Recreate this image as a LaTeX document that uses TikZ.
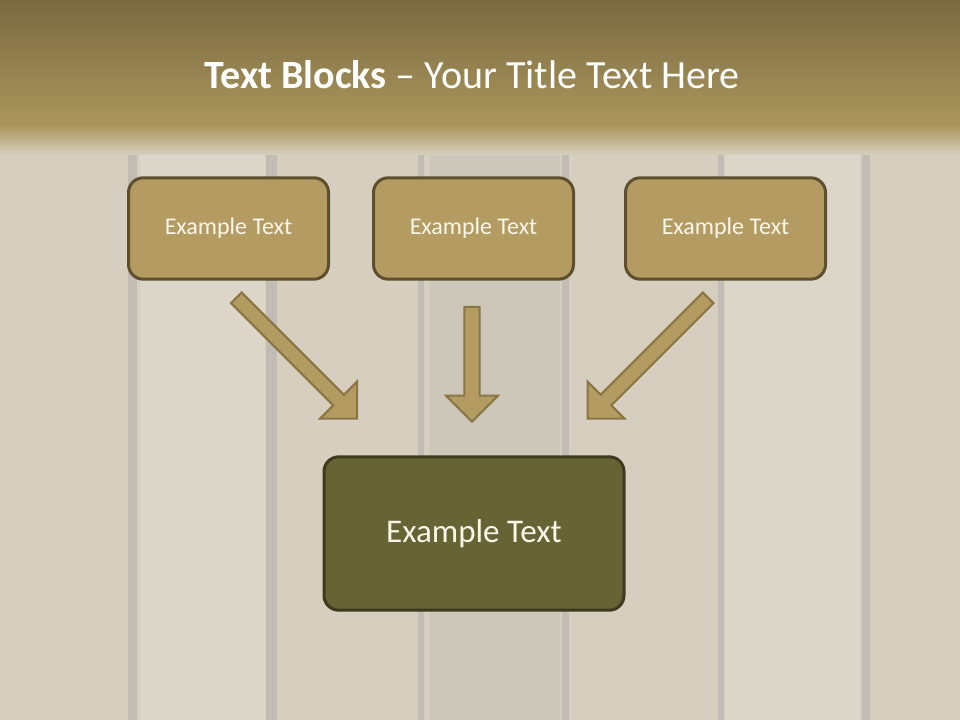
\documentclass[tikz,border=0pt]{standalone}
\usepackage{fontspec}
\setmainfont{Carlito}
\usetikzlibrary{shapes.arrows}
\definecolor{woodbase}{RGB}{214,207,191}
\definecolor{woodlight}{RGB}{220,214,200}
\definecolor{wooddark}{RGB}{205,199,186}
\definecolor{seam}{RGB}{194,189,180}
\definecolor{bandtop}{RGB}{122,106,66}
\definecolor{bandbot}{RGB}{170,150,92}
\definecolor{blockfill}{RGB}{179,155,98}
\definecolor{blockline}{RGB}{94,79,46}
\definecolor{arrowline}{RGB}{138,117,69}
\definecolor{mainfill}{RGB}{102,100,52}
\definecolor{mainline}{RGB}{61,58,30}
\definecolor{blocktext}{RGB}{250,246,234}
\begin{document}
\begin{tikzpicture}[
    x=0.75pt, y=-0.75pt,
    block/.style={draw=blockline, fill=blockfill, line width=2.25pt, rounded corners=11pt,
      minimum width=150pt, minimum height=76pt, text=blocktext, font=\fontsize{18}{22}\selectfont},
    mainblock/.style={block, draw=mainline, fill=mainfill, minimum width=225pt, minimum height=115pt,
      font=\fontsize{24.8}{30}\selectfont},
    flow/.style={single arrow, draw=arrowline, fill=blockfill, line width=1.5pt,
      inner sep=4.9pt, single arrow head extend=13.9pt, single arrow tip angle=90, single arrow head indent=0pt},
]
  \useasboundingbox (0,0) rectangle (960,720);
  % wood planks
  \fill[woodbase] (0,0) rectangle (960,720);
  \fill[woodlight] (140,0) rectangle (265,720);
  \fill[wooddark] (430,0) rectangle (560,720);
  \fill[woodlight] (725,0) rectangle (860,720);
  \foreach \sx/\sw in {128/9, 266/11, 418/6, 562/7, 718/6, 862/8}
    \fill[seam] (\sx,0) rectangle ++(\sw,720);
  % title band
  \shade[top color=bandtop, bottom color=bandbot] (0,0) rectangle (960,126);
  \shade[top color=bandbot, bottom color=woodbase] (0,125) rectangle (960,155);
  \node (title) at (472,75) {\fontsize{30}{36}\selectfont\color{white}\textbf{Text Blocks} -- Your Title Text Here};
  % blocks
  \node[block]     (left)   at (228.5,228.5) {Example Text};
  \node[block]     (middle) at (473.5,228.5) {Example Text};
  \node[block]     (right)  at (725.5,228.5) {Example Text};
  \node[mainblock] (result) at (474,533.5)   {Example Text};
  % arrows
  \node[flow, minimum height=128pt, rotate=-45]  (leftarrow)   at (294,355.5) {};
  \node[flow, minimum height=86pt,  rotate=-90]  (middlearrow) at (472,360.5) {};
  \node[flow, minimum height=128pt, rotate=-135] (rightarrow)  at (650.5,355.5) {};
\end{tikzpicture}
\end{document}
